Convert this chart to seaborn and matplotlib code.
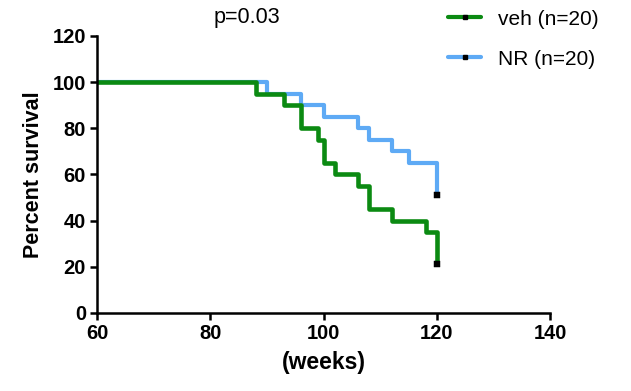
import pandas as pd
import matplotlib.pyplot as plt
import seaborn as sns
from matplotlib.lines import Line2D

# ---- data (Kaplan-Meier steps) ----
veh_weeks = [60, 88, 93, 96, 99, 100, 102, 106, 108, 112, 118, 120]
veh_surv = [100, 95, 90, 80, 75, 65, 60, 55, 45, 40, 35, 21]
nr_weeks = [60, 90, 96, 100, 106, 108, 112, 115, 120]
nr_surv = [100, 95, 90, 85, 80, 75, 70, 65, 51]
labels = ["veh (n=20)", "NR (n=20)"]
colors = ["#0b8a12", "#5eaaf5"]
p_text = "p=0.03"
# -----------------------------------------------------------

sns.set_style("ticks")
plt.rcParams["font.family"] = ["Liberation Sans", "DejaVu Sans"]
plt.rcParams["text.color"] = "black"
plt.rcParams["axes.labelcolor"] = "black"
plt.rcParams["xtick.color"] = "black"
plt.rcParams["ytick.color"] = "black"

df = pd.concat([
    pd.DataFrame({"weeks": veh_weeks, "surv": veh_surv, "group": labels[0]}),
    pd.DataFrame({"weeks": nr_weeks, "surv": nr_surv, "group": labels[1]}),
])
ends = df.groupby("group", sort=False).tail(1)

fig = plt.figure(figsize=(6.31, 3.91), dpi=100)
ax = fig.add_axes([0.154, 0.2, 0.718, 0.708])

# draw NR first so veh sits on top
for lab, col, lw in [(labels[1], colors[1], 3.0), (labels[0], colors[0], 3.3)]:
    sns.lineplot(data=df[df["group"] == lab], x="weeks", y="surv", ax=ax,
                 color=col, lw=lw, drawstyle="steps-post", estimator=None,
                 sort=False, legend=False)
sns.scatterplot(data=ends, x="weeks", y="surv", ax=ax, marker="s", s=18,
                color="black", edgecolor="black", zorder=5, legend=False)

ax.set_xlim(60, 140)
ax.set_ylim(0, 120)
ax.set_xticks([60, 80, 100, 120, 140])
ax.set_yticks([0, 20, 40, 60, 80, 100, 120])
ax.set_xlabel("(weeks)", fontsize=16.5, fontweight="bold", labelpad=6)
ax.set_ylabel("Percent survival", fontsize=15.5, fontweight="bold", labelpad=6)
for lbl in ax.get_xticklabels() + ax.get_yticklabels():
    lbl.set_fontweight("bold")
ax.tick_params(axis="both", labelsize=14.5, width=1.8, length=5, color="black", pad=3)
sns.despine(ax=ax)
for s in ["left", "bottom"]:
    ax.spines[s].set_linewidth(1.8)
    ax.spines[s].set_color("black")

fig.text(0.392, 0.954, p_text, fontsize=15.5, ha="center", va="center")

handles = [Line2D([0], [0], color=c, lw=3, marker="s", ms=3,
                  mfc="black", mec="black") for c in colors]
fig.legend(handles, labels, loc="upper left", bbox_to_anchor=(0.71, 0.975),
           frameon=False, fontsize=15, handlelength=1.6, handletextpad=0.8,
           labelspacing=1.0, borderpad=0, borderaxespad=0)

fig.savefig("out.png", dpi=100)
